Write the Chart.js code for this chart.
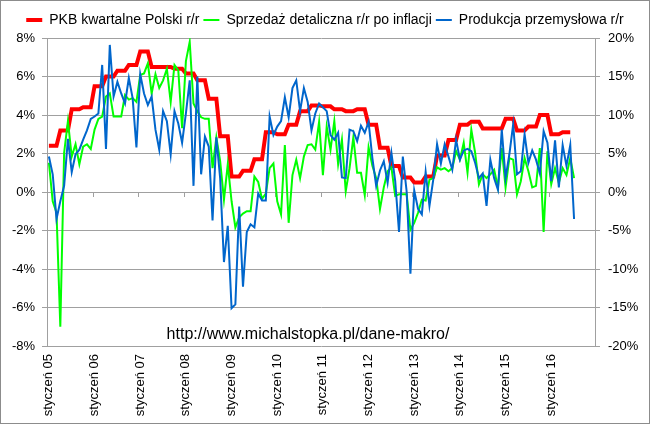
<!DOCTYPE html>
<html>
<head>
<meta charset="utf-8">
<script src="https://cdn.jsdelivr.net/npm/chart.js@4/dist/chart.umd.min.js"></script>
<style>
    body { margin: 0; background: #fff; }
    #wrap { width: 650px; height: 424px; box-sizing: border-box; border: 1px solid #8c8c8c; }
</style>
</head>
<body>
<div id="wrap"><canvas id="Chart1" width="648" height="422"></canvas></div>
<script>

const miesiace = ['styczeń', 'luty', 'marzec', 'kwiecień', 'maj', 'czerwiec',
    'lipiec', 'sierpień', 'wrzesień', 'październik', 'listopad', 'grudzień'];
const lata = ['05', '06', '07', '08', '09', '10', '11', '12', '13', '14', '15', '16'];

// PKB r/r (lewa oś), wartość kwartalna powtórzona dla każdego miesiąca
const pkb = [
    2.4, 2.4, 2.4, 3.2, 3.2, 3.2, 4.3, 4.3, 4.3, 4.4, 4.4, 4.4,
    5.5, 5.5, 5.5, 6.0, 6.0, 6.0, 6.3, 6.3, 6.3, 6.6, 6.6, 6.6,
    7.3, 7.3, 7.3, 6.5, 6.5, 6.5, 6.5, 6.5, 6.5, 6.4, 6.4, 6.4,
    6.15, 6.15, 6.15, 5.8, 5.8, 5.8, 4.85, 4.85, 4.85, 2.9, 2.9, 2.9,
    0.8, 0.8, 0.8, 1.1, 1.1, 1.1, 1.7, 1.7, 1.7, 3.1, 3.1, 3.1,
    3.0, 3.0, 3.0, 3.5, 3.5, 3.5, 4.2, 4.2, 4.2, 4.5, 4.5, 4.5,
    4.45, 4.45, 4.45, 4.3, 4.3, 4.3, 4.2, 4.2, 4.2, 4.3, 4.3, 4.3,
    3.5, 3.5, 3.5, 2.3, 2.3, 2.3, 1.35, 1.35, 1.35, 0.75, 0.75, 0.75,
    0.5, 0.5, 0.5, 0.8, 0.8, 0.8, 1.9, 1.9, 1.9, 2.7, 2.7, 2.7,
    3.5, 3.5, 3.5, 3.65, 3.65, 3.65, 3.3, 3.3, 3.3, 3.3, 3.3, 3.3,
    3.8, 3.8, 3.8, 3.2, 3.2, 3.2, 3.4, 3.4, 3.4, 4.0, 4.0, 4.0,
    3.0, 3.0, 3.0, 3.1, 3.1, 3.1
];

// sprzedaż detaliczna r/r po inflacji (prawa oś)
const sprzedaz = [
    3.8, -1.2, -2.7, -17.5, 5.1, 9.2, 4.6, 6.2, 3.6, 5.9, 6.2, 5.6,
    8.1, 9.5, 9.8, 12.4, 12.8, 9.8, 9.8, 9.8, 12.6, 12.0, 12.2, 11.7,
    15.2, 15.4, 16.7, 12.8, 15.3, 13.5, 14.5, 16.0, 11.7, 16.5, 15.8, 8.3,
    17.0, 19.5, 11.5, 10.5, 9.7, 9.5, 9.5, 3.1, 7.1, 4.0, -1.0, 3.6,
    -1.2, -4.6, -3.3, -2.8, -2.5, -2.5, 2.0, 1.3, -0.9, -0.2, 3.1, 3.7,
    -1.2, -2.9, 6.1, -4.0, 2.2, 4.2, 1.8, 4.6, 6.1, 6.2, 5.5, 9.1,
    2.2, 8.5, 5.5, 9.2, 3.6, 6.8, 0.1, 3.1, 7.1, 2.5, 2.5, -0.4,
    5.8, 3.4, 1.8, -2.2, 0.6, 2.7, 3.2, -0.5, -0.3, -0.3, -0.3, -4.9,
    -4.0, -2.7, -1.0, -1.1, 1.6, 1.8, 3.2, 2.9, 3.1, 2.7, 3.1, 5.3,
    4.2, 6.4, 2.5, 8.1, 5.1, 1.0, 2.3, 1.8, 2.3, 2.9, 0.6, 5.7,
    0.6, 4.4, 4.2, -0.3, 1.4, 4.4, 2.7, 0.6, 0.8, 5.7, -5.2, 5.3,
    1.0, 3.1, 1.2, 3.1, 2.2, 4.4, 1.8
];

// produkcja przemysłowa r/r (prawa oś)
const produkcja = [
    4.6, 2.3, -3.5, -1.2, 0.8, 6.9, 2.6, 4.9, 5.5, 6.8, 8.0, 9.5,
    9.8, 10.2, 16.5, 5.6, 19.1, 12.4, 14.3, 12.8, 11.5, 14.8, 12.2, 5.8,
    15.3, 12.8, 11.3, 12.4, 8.1, 5.5, 10.5, 9.2, 4.9, 10.5, 8.9, 6.4,
    10.2, 14.5, 0.8, 15.0, 2.3, 7.2, 5.9, -3.7, 7.1, 1.8, -9.1, -4.4,
    -15.1, -14.6, -1.9, -12.3, -5.2, -4.2, -4.6, -0.2, -1.1, -1.1, 9.8, 7.4,
    8.5, 9.2, 12.3, 9.7, 13.5, 14.5, 10.5, 13.5, 11.7, 8.0, 10.2, 11.5,
    11.0, 10.5, 7.4, 6.8, 7.7, 1.9, 1.8, 8.1, 7.9, 6.6, 8.6, 7.7,
    9.1, 4.4, 0.8, 2.8, 4.0, 1.2, 5.1, 1.4, -5.2, 4.6, 0.1, -10.6,
    0.2, -2.2, -2.9, 2.6, -1.8, 1.6, 6.2, 3.7, 6.2, 4.6, 2.9, 6.8,
    4.2, 5.4, 5.6, 5.3, 3.8, 1.8, 2.4, -1.8, 4.2, 1.8, 0.3, 8.1,
    1.8, 4.9, 8.8, 2.3, 2.7, 7.5, 3.8, 5.4, 4.2, 2.4, 7.9, 6.4,
    1.4, 6.7, 0.6, 6.1, 3.4, 6.1, -3.5
];

const labels = lata.flatMap(r => miesiace.map(m => m + ' ' + r));

const gridColor = '#a0a0a0';
Chart.defaults.font.family = '"Liberation Sans", Arial, sans-serif';
Chart.defaults.color = '#000';

// kreski podziałki na linii zera + adres strony
const extras = {
    id: 'extras',
    beforeInit(chart) {
        const fit = chart.legend.fit;
        chart.legend.fit = function () {
            fit.bind(chart.legend)();
            this.height += 1;
        };
    },
    beforeDatasetsDraw(chart) {
        const x = chart.scales.x;
        const y0 = chart.scales.y.getPixelForValue(0);
        const ctx = chart.ctx;
        ctx.save();
        ctx.strokeStyle = gridColor;
        ctx.lineWidth = 1;
        ctx.beginPath();
        for (let i = 12; i < labels.length; i += 12) {
            const px = Math.round((x.getPixelForValue(i - 1) + x.getPixelForValue(i)) / 2) + 0.5;
            ctx.moveTo(px, y0);
            ctx.lineTo(px, y0 + 5);
        }
        ctx.stroke();
        ctx.restore();
    },
    afterDraw(chart) {
        const ctx = chart.ctx;
        ctx.save();
        ctx.font = '16px "Liberation Sans", Arial, sans-serif';
        ctx.fillStyle = '#000';
        ctx.textAlign = 'center';
        ctx.textBaseline = 'middle';
        ctx.fillText('http://www.michalstopka.pl/dane-makro/', 307, 334);
        ctx.restore();
    }
};

const ctx = document.getElementById('Chart1');

new Chart(ctx, {
    type: 'line',
    data: {
        labels: labels,
        datasets: [
            {
                label: 'PKB kwartalne Polski r/r',
                data: pkb,
                yAxisID: 'y',
                borderColor: '#ff0000',
                backgroundColor: '#ff0000',
                borderWidth: 4,
                pointRadius: 0,
                tension: 0,
                order: 3
            },
            {
                label: 'Sprzedaż detaliczna r/r po inflacji',
                data: sprzedaz,
                yAxisID: 'y1',
                borderColor: '#00ff00',
                backgroundColor: '#00ff00',
                borderWidth: 2,
                pointRadius: 0,
                tension: 0,
                order: 2
            },
            {
                label: 'Produkcja przemysłowa r/r',
                data: produkcja,
                yAxisID: 'y1',
                borderColor: '#0066cc',
                backgroundColor: '#0066cc',
                borderWidth: 2,
                pointRadius: 0,
                tension: 0,
                order: 1
            }
        ]
    },
    options: {
        responsive: false,
        animation: false,
        layout: { padding: { top: 8, left: 0, right: 0, bottom: 0 } },
        plugins: {
            legend: {
                position: 'top',
                labels: {
                    usePointStyle: true,
                    pointStyle: 'line',
                    pointStyleWidth: 16,
                    padding: 4,
                    font: { size: 14 },
                    sort: (a, b) => a.datasetIndex - b.datasetIndex
                }
            },
            tooltip: { enabled: false }
        },
        scales: {
            x: {
                offset: true,
                grid: { display: false, drawTicks: false },
                border: { display: false },
                ticks: {
                    autoSkip: false,
                    maxRotation: 90,
                    minRotation: 90,
                    padding: 8,
                    font: { size: 13 },
                    callback: (v, i) => (i % 12 === 0 ? labels[i] : '')
                },
                afterFit: s => { s.height = 77; }
            },
            y: {
                position: 'left',
                min: -8,
                max: 8,
                grid: { color: gridColor, tickLength: 5 },
                border: { color: gridColor },
                ticks: { stepSize: 2, padding: 7, font: { size: 13 }, callback: v => v + '%' },
                afterFit: s => { s.width = 46; }
            },
            y1: {
                position: 'right',
                min: -20,
                max: 20,
                grid: { drawOnChartArea: false, color: gridColor, tickLength: 5 },
                border: { color: gridColor },
                ticks: { stepSize: 5, padding: 8, font: { size: 13 }, callback: v => v + '%' },
                afterFit: s => { s.width = 54; }
            }
        }
    },
    plugins: [extras]
});

</script>
</body>
</html>
